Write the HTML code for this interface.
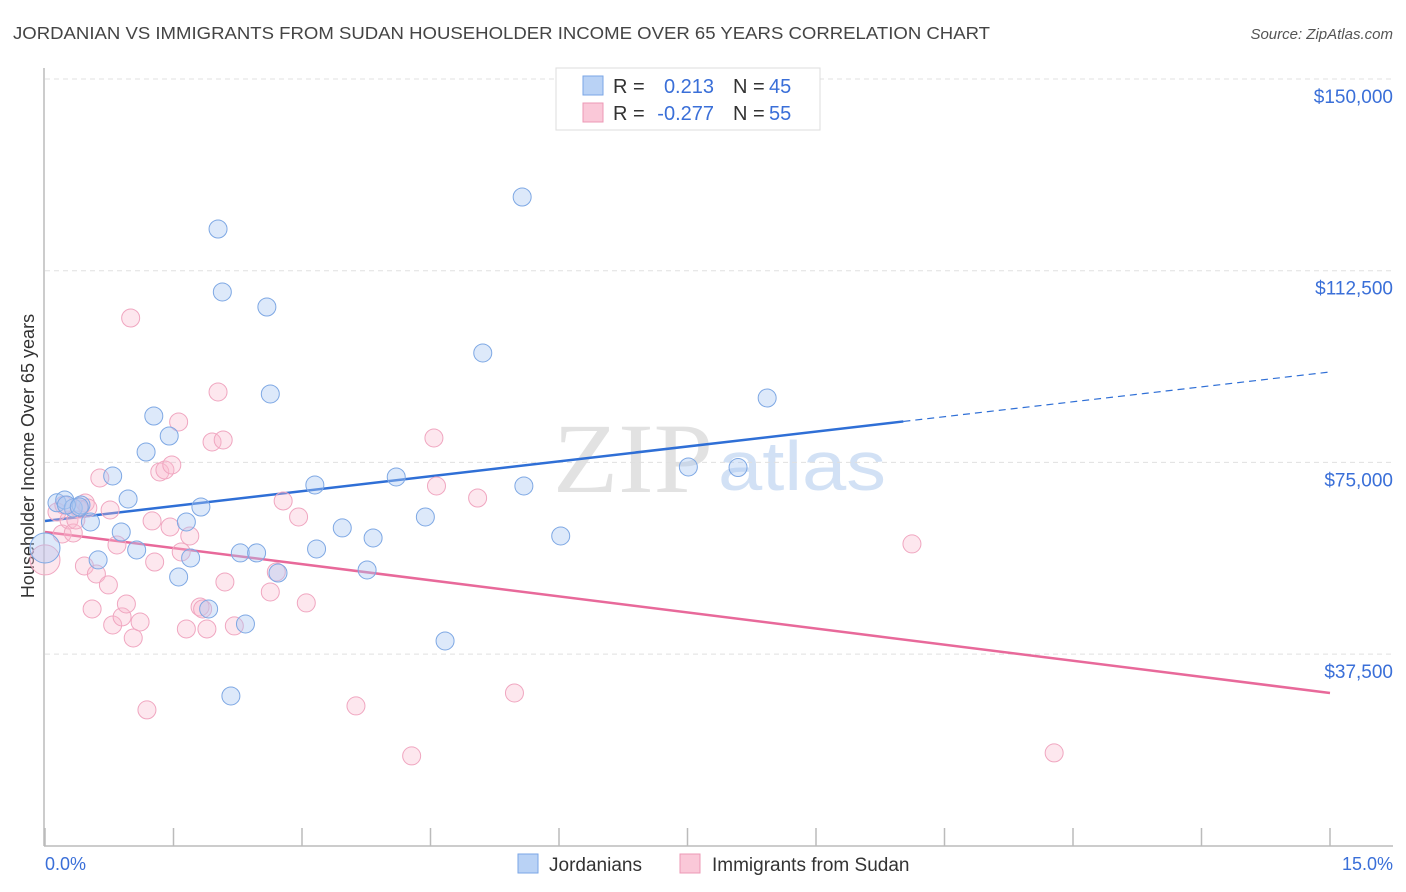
<!DOCTYPE html>
<html><head><meta charset="utf-8"><style>
body{margin:0;background:#fff;font-family:"Liberation Sans",sans-serif;}
svg{display:block}
</style></head><body>
<svg id="chart" width="1406" height="892" xmlns="http://www.w3.org/2000/svg">
<text x="13" y="39" font-size="17.5" fill="#444" textLength="977" lengthAdjust="spacingAndGlyphs">JORDANIAN VS IMMIGRANTS FROM SUDAN HOUSEHOLDER INCOME OVER 65 YEARS CORRELATION CHART</text>
<text x="1393" y="39" font-size="15" fill="#555" font-style="italic" text-anchor="end">Source: ZipAtlas.com</text>
<text x="553" y="492" font-size="100" fill="#e2e2e2" font-family="Liberation Serif,serif" textLength="160" lengthAdjust="spacingAndGlyphs">ZIP</text>
<text x="718" y="490" font-size="70" fill="#d2e1f5" textLength="168" lengthAdjust="spacingAndGlyphs">atlas</text>
<text transform="translate(34,456) rotate(-90)" font-size="18" fill="#333" text-anchor="middle">Householder Income Over 65 years</text>
<g id="grid"></g><g id="ticks"></g><g id="lines"></g><g id="pts"></g>
<g>
<rect x="556" y="68" width="264" height="62" fill="#fff" stroke="#ddd"/>
<rect x="583" y="76" width="20" height="19" fill="#b9d2f5" stroke="#7aa6e6"/>
<rect x="583" y="103" width="20" height="19" fill="#fac8d8" stroke="#ec98b6"/>
<text x="613" y="93" font-size="20" fill="#333">R =</text><text x="714" y="93" font-size="20" fill="#3a6fd8" text-anchor="end">0.213</text>
<text x="733" y="93" font-size="20" fill="#333">N =</text><text x="769" y="93" font-size="20" fill="#3a6fd8">45</text>
<text x="613" y="120" font-size="20" fill="#333">R =</text><text x="714" y="120" font-size="20" fill="#3a6fd8" text-anchor="end">-0.277</text>
<text x="733" y="120" font-size="20" fill="#333">N =</text><text x="769" y="120" font-size="20" fill="#3a6fd8">55</text>
</g>
<g>
<rect x="518" y="854" width="20" height="19" fill="#b9d2f5" stroke="#7aa6e6"/>
<text x="549" y="871" font-size="19" fill="#333">Jordanians</text>
<rect x="680" y="854" width="20" height="19" fill="#fac8d8" stroke="#ec98b6"/>
<text x="712" y="871" font-size="19" fill="#333">Immigrants from Sudan</text>
</g>
<text x="45" y="870" font-size="18" fill="#3a6fd8">0.0%</text>
<text x="1393" y="870" font-size="18" fill="#3a6fd8" text-anchor="end">15.0%</text>
</svg>
<script>
const yTicks=[150000,112500,75000,37500];
const yTickLabels=["$150,000","$112,500","$75,000","$37,500"];
const xTicks=[0,1.5,3,4.5,6,7.5,9,10.5,12,13.5,15];
const jordX=[0,0.14,0.23,0.33,0.42,0.53,0.62,0.79,0.89,0.97,1.07,1.18,1.27,1.45,1.56,1.65,1.70,1.82,1.91,2.02,2.07,2.17,2.28,2.34,2.47,2.59,2.63,2.72,3.15,3.17,3.47,3.76,3.83,4.10,4.44,4.67,5.11,5.57,5.59,6.02,7.51,8.09,8.43,0.25,0.40];
const jordY=[58260,67100,67650,66090,66670,63350,55920,72350,61390,67850,57870,77040,84080,80170,52590,63350,56310,66280,46330,120660,108340,29310,57290,43400,57290,105400,88390,53370,70590,58070,62180,53960,60220,72150,64330,40070,96410,126920,70390,60610,74110,74000,87600,66670,66300];
const sudX=[0,0.14,0.20,0.28,0.33,0.40,0.47,0.46,0.55,0.60,0.64,0.74,0.79,0.84,0.90,0.95,1.00,1.03,1.11,1.19,1.25,1.28,1.34,1.40,1.48,1.46,1.56,1.59,1.65,1.69,1.81,1.84,1.89,1.95,2.02,2.08,2.10,2.21,2.63,2.70,2.78,2.96,3.05,3.63,4.28,4.54,4.57,5.05,5.48,10.12,11.78,0.22,0.36,0.50,0.76];
const sudY=[55920,65300,61000,63740,61200,65890,67070,54740,46330,53180,71960,51030,43200,58850,44770,47310,103250,40660,43790,26580,63550,55520,73130,73520,74500,62370,82910,57480,42420,60610,46720,46330,42420,79000,88780,79390,51610,43010,49660,53570,67460,64330,47510,27360,17580,79780,70390,68040,29900,59050,18170,66670,63740,66090,65700];
const jordTrend=[63540,92690];
const sudTrend=[61390,29900];
const solidEnd=10.02;
const NS="http://www.w3.org/2000/svg";
const X=v=>45+v*(1330-45)/15;
const Y=v=>79+(150000-v)*191.7/37500;
function mk(tag,attrs,parent){const e=document.createElementNS(NS,tag);for(const k in attrs)e.setAttribute(k,attrs[k]);document.getElementById(parent).appendChild(e);return e;}
yTicks.forEach((t,i)=>{
  const g=mk('line',{x1:45,x2:1393,y1:Y(t),y2:Y(t),stroke:'#e0e0e0','stroke-dasharray':'5,4'},'grid');
  
  
  const l=mk('text',{x:1393,y:Y(t)+24,'font-size':19,fill:'#3a6fd8','text-anchor':'end'},'grid');
  l.textContent=yTickLabels[i];
  
  
});
const ax=mk('line',{x1:44,x2:44,y1:68,y2:846,stroke:'#bbb','stroke-width':1.5},'ticks');


const bx=mk('line',{x1:44,x2:1393,y1:846,y2:846,stroke:'#bbb','stroke-width':1.5},'ticks');


xTicks.forEach(t=>{
  const k=mk('line',{x1:X(t),x2:X(t),y1:828,y2:846,stroke:'#bbb','stroke-width':1.5},'ticks');
  
  
});
function pts(xs,ys,fill,stroke,name){
  xs.forEach((x,i)=>{
    const r=(x===0)?15:9;
    const c=mk('circle',{cx:X(x),cy:Y(ys[i]),r:r,fill:fill,stroke:stroke,'stroke-width':1},'pts');
    
    
  });
}
pts(sudX,sudY,'rgba(248,185,205,0.35)','#f0a6c0','sudan-point');
pts(jordX,jordY,'rgba(170,200,242,0.4)','#7ea8e4','jordanian-point');
const f=(tr,x)=>tr[0]+(tr[1]-tr[0])*x/15;
const l1=mk('line',{x1:X(0),y1:Y(f(jordTrend,0)),x2:X(solidEnd),y2:Y(f(jordTrend,solidEnd)),stroke:'#2f6fd6','stroke-width':2.5},'lines');


const l2=mk('line',{x1:X(solidEnd),y1:Y(f(jordTrend,solidEnd)),x2:X(15),y2:Y(f(jordTrend,15)),stroke:'#2f6fd6','stroke-width':1.2,'stroke-dasharray':'7,5'},'lines');


const l3=mk('line',{x1:X(0),y1:Y(f(sudTrend,0)),x2:X(15),y2:Y(f(sudTrend,15)),stroke:'#e8699a','stroke-width':2.5},'lines');


</script>
</body></html>
